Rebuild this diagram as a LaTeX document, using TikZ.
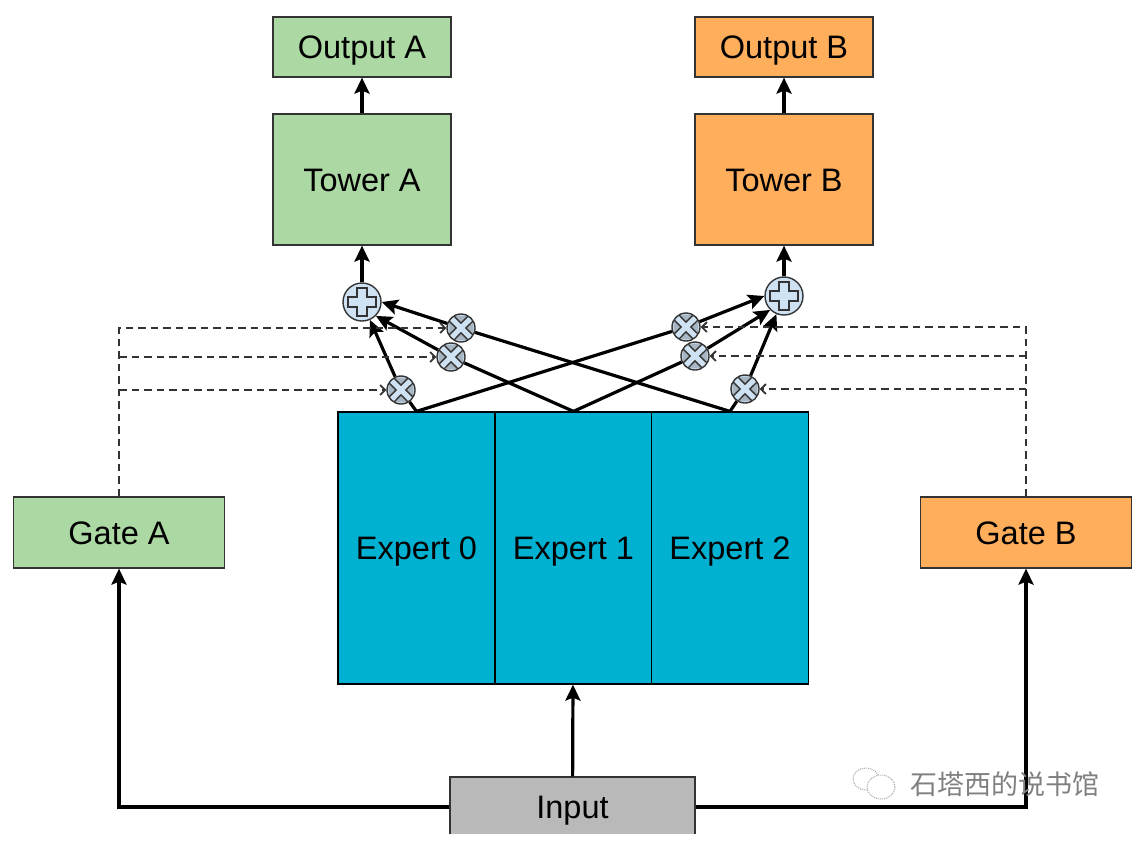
\documentclass[tikz,border=0pt]{standalone}
\usepackage{fontspec}
\setmainfont{Liberation Sans}
\newfontfamily\cjk{Noto Sans CJK SC}
\usetikzlibrary{arrows.meta}
\definecolor{greenbox}{HTML}{ACD8A4}
\definecolor{orangebox}{HTML}{FFAE5C}
\definecolor{expertbox}{HTML}{00B1D2}
\definecolor{inputbox}{HTML}{B9B9B9}
\definecolor{opfill}{HTML}{CFE2F3}
\definecolor{edge}{HTML}{333333}
\tikzset{
  box/.style={draw=edge,line width=1.2pt,inner sep=0pt,text height=23pt,text depth=0pt,
    font=\fontsize{32.5}{32.5}\selectfont},
  output/.style={box,minimum width=178pt,minimum height=60pt},
  tower/.style={box,minimum width=178pt,minimum height=131pt},
  gate/.style={box,minimum width=211pt,minimum height=71pt},
  expert/.style={box,fill=expertbox,draw=black,minimum width=157pt,minimum height=272pt},
  sumop/.style={circle,draw=edge,line width=1.4pt,fill=opfill,minimum size=38pt,inner sep=0pt,
    path picture={\draw[edge,line width=1.2pt,shift={(path picture bounding box.center)}]
      (-5pt,-14pt) -- (5pt,-14pt) -- (5pt,-5pt) -- (14pt,-5pt) -- (14pt,5pt) -- (5pt,5pt)
      -- (5pt,14pt) -- (-5pt,14pt) -- (-5pt,5pt) -- (-14pt,5pt) -- (-14pt,-5pt) -- (-5pt,-5pt) -- cycle;}},
  mulop/.style={circle,draw=edge,line width=1.4pt,fill=opfill,minimum size=28pt,inner sep=0pt,
    path picture={\draw[edge,line width=1.4pt,fill=edge!25!opfill,shift={(path picture bounding box.center)}]
      (7.4pt,-12.4pt) -- (0pt,-4.95pt) -- (-7.4pt,-12.4pt)
      (-12.4pt,-7.4pt) -- (-4.95pt,0pt) -- (-12.4pt,7.4pt)
      (-7.4pt,12.4pt) -- (0pt,4.95pt) -- (7.4pt,12.4pt)
      (12.4pt,7.4pt) -- (4.95pt,0pt) -- (12.4pt,-7.4pt);}},
  link/.style={line width=3.2pt,black},
  arrow/.style={link,-{Stealth[length=16pt,width=15pt,inset=3pt]}},
  gatelink/.style={line width=1.8pt,edge,dash pattern=on 7.5pt off 5pt},
  gatearrow/.style={gatelink,-{Straight Barb[length=5pt,width=10pt]}}
}
\begin{document}
\begin{tikzpicture}[x=1pt,y=-1pt]
  \useasboundingbox (0,0) rectangle (1140,846);
  % towers
  \node[output,fill=greenbox] (outA) at (362,47) {Output A};
  \node[tower,fill=greenbox] (towerA) at (362,179.5) {Tower A};
  \node[output,fill=orangebox] (outB) at (784,47) {Output B};
  \node[tower,fill=orangebox] (towerB) at (784,179.5) {Tower B};
  % gates
  \node[gate,fill=greenbox] (gateA) at (119,532.5) {Gate A};
  \node[gate,fill=orangebox] (gateB) at (1026,532.5) {Gate B};
  % experts
  \node[expert] (exp0) at (416.5,548) {Expert 0};
  \node[expert] (exp1) at (573.5,548) {Expert 1};
  \node[expert] (exp2) at (730,548) {Expert 2};
  % the input box is cut off at the bottom
  \begin{scope}
    \clip (0,0) rectangle (1140,833);
    \node[box,fill=inputbox,minimum width=245pt,minimum height=60pt] (input) at (572.5,807) {Input};
  \end{scope}
  % operators
  \node[sumop] (sumA) at (362,302) {};
  \node[sumop] (sumB) at (784,296) {};
  \node[mulop] (mulA0) at (401,390) {};
  \node[mulop] (mulA1) at (451,357) {};
  \node[mulop] (mulA2) at (461,328) {};
  \node[mulop] (mulB0) at (686,327) {};
  \node[mulop] (mulB1) at (695,356) {};
  \node[mulop] (mulB2) at (745,389) {};
  % solid connectors
  \draw[arrow] (towerA) -- (outA);
  \draw[arrow] (towerB) -- (outB);
  \draw[arrow] (sumA) -- (towerA);
  \draw[arrow] (sumB) -- (towerB);
  \draw[arrow] (input) -- (exp1);
  \draw[arrow] (input.west) -| (gateA);
  \draw[arrow] (input.east) -| (gateB);
  \draw[link] (exp0.north) -- (mulA0);
  \draw[link] (exp1.north) -- (mulA1);
  \draw[link] (exp2.north) -- (mulA2);
  \draw[link] (exp0.north) -- (mulB0);
  \draw[link] (exp1.north) -- (mulB1);
  \draw[link] (exp2.north) -- (mulB2);
  \draw[arrow] (mulA0) -- (sumA);
  \draw[arrow] (mulA1) -- (sumA.south east);
  \draw[arrow] (mulA2) -- (sumA.east);
  \draw[arrow] (mulB0) -- (sumB.west);
  \draw[arrow] (mulB1) -- (sumB.south west);
  \draw[arrow] (mulB2) -- (sumB);
  % dashed connectors
  \draw[gatearrow] (gateA.north) |- (mulA2);
  \draw[gatearrow] (mulA1 -| gateA.north) -- (mulA1);
  \draw[gatearrow] (mulA0 -| gateA.north) -- (mulA0);
  \draw[gatearrow] (gateB.north) |- (mulB0);
  \draw[gatearrow] (mulB1 -| gateB.north) -- (mulB1);
  \draw[gatearrow] (mulB2 -| gateB.north) -- (mulB2);
  % watermark
  \draw[gray!70,densely dotted,line width=1pt] (866,779) ellipse (13pt and 11pt);
  \draw[gray!70,densely dotted,line width=1pt,fill=white] (881,787) ellipse (14pt and 12pt);
  \node[text=gray,font=\cjk\fontsize{27}{27}\selectfont,inner sep=0pt] (mark) at (1005,784) {石塔西的说书馆};
\end{tikzpicture}
\end{document}
